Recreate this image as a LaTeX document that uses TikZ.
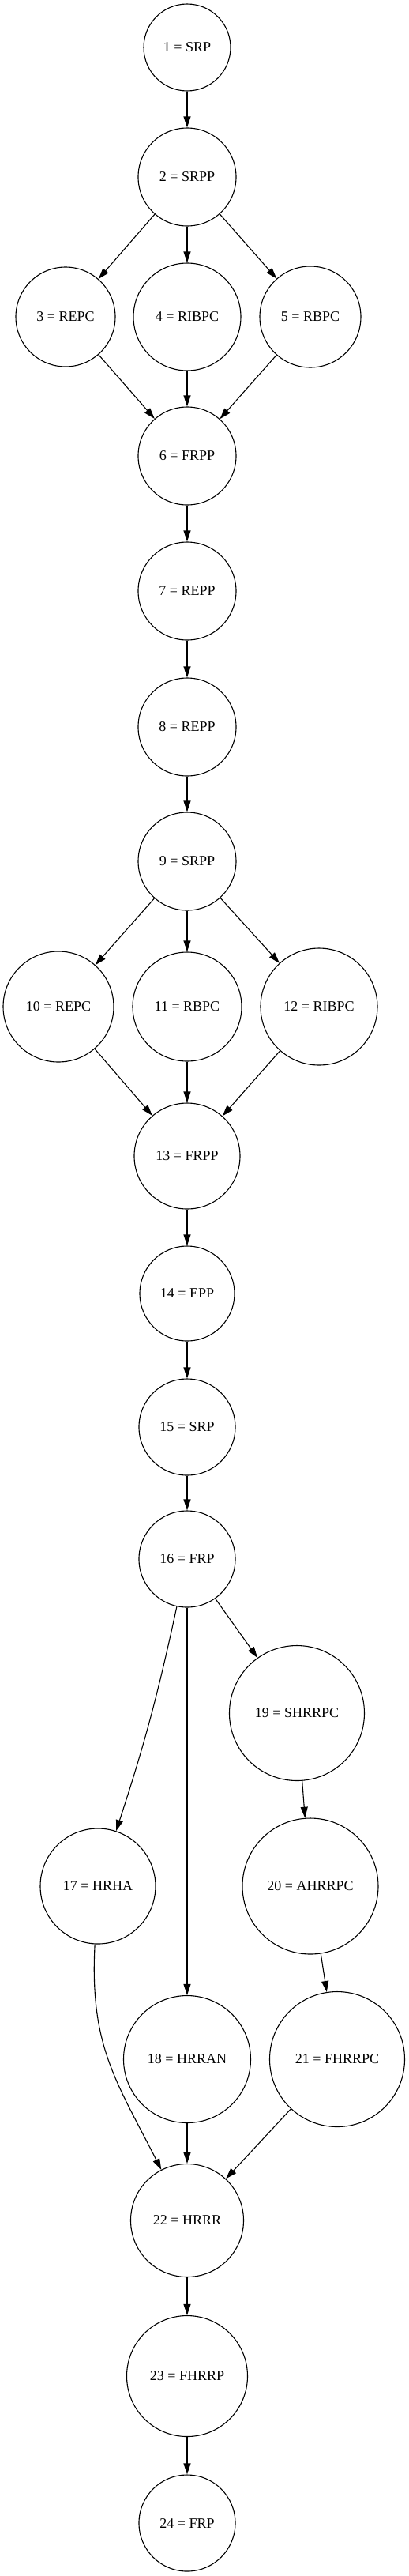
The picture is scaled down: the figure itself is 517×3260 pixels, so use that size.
\documentclass[tikz,border=0pt]{standalone}
\usepackage{fontspec}
\setmainfont{Liberation Serif}
\usetikzlibrary{arrows.meta}

\tikzset{
	st/.style={circle, draw, line width=1.1pt, inner sep=0pt, font=\fontsize{18}{22}\selectfont},
}

\begin{document}
\begin{tikzpicture}[x=1pt,y=1pt,line width=1.1pt,>={Triangle[length=14pt,width=9pt]}]
\useasboundingbox (0,0) rectangle (517,-3260);

%----------------------------
% Top: first chain
%----------------------------
\node[st, minimum size=110pt] (n1) at (237,-60) {1 = SRP};
\node[st, minimum size=124pt] (n2) at (237,-224) {2 = SRPP};
\node[st, minimum size=126pt] (n3) at (83,-401) {3 = REPC};
\node[st, minimum size=136pt] (n4) at (237,-401) {4 = RIBPC};
\node[st, minimum size=128pt] (n5) at (393,-401) {5 = RBPC};
\node[st, minimum size=124pt] (n6) at (237,-577) {6 = FRPP};
\node[st, minimum size=124pt] (n7) at (237,-748) {7 = REPP};
\node[st, minimum size=124pt] (n8) at (237,-920) {8 = REPP};

%----------------------------
% Middle: second chain
%----------------------------
\node[st, minimum size=124pt] (n9) at (237,-1090) {9 = SRPP};
\node[st, minimum size=140pt] (n10) at (74,-1274) {10 = REPC};
\node[st, minimum size=138pt] (n11) at (237,-1274) {11 = RBPC};
\node[st, minimum size=148pt] (n12) at (404,-1274) {12 = RIBPC};
\node[st, minimum size=134pt] (n13) at (237,-1463) {13 = FRPP};
\node[st, minimum size=120pt] (n14) at (237,-1637) {14 = EPP};
\node[st, minimum size=122pt] (n15) at (237,-1806) {15 = SRP};

%----------------------------
% Bottom: branches of 16
%----------------------------
\node[st, minimum size=122pt] (n16) at (237,-1973) {16 = FRP};
\node[st, minimum size=146pt] (n17) at (124,-2387) {17 = HRHA};
\node[st, minimum size=161pt] (n18) at (237,-2606) {18 = HRRAN};
\node[st, minimum size=171pt] (n19) at (376,-2168) {19 = SHRRPC};
\node[st, minimum size=172pt] (n20) at (393,-2387) {20 = AHRRPC};
\node[st, minimum size=171pt] (n21) at (427,-2606) {21 = FHRRPC};
\node[st, minimum size=143pt] (n22) at (237,-2810) {22 = HRRR};
\node[st, minimum size=153pt] (n23) at (237,-3007) {23 = FHRRP};
\node[st, minimum size=122pt] (n24) at (237,-3193) {24 = FRP};

%----------------------------
% Arrows
%----------------------------
\foreach \a/\b in {1/2, 2/3, 2/4, 2/5, 3/6, 4/6, 5/6, 6/7, 7/8, 8/9,
	9/10, 9/11, 9/12, 10/13, 11/13, 12/13, 13/14, 14/15, 15/16,
	16/18, 16/19, 19/20, 20/21, 18/22, 21/22, 22/23, 23/24}
\draw[->] (n\a) -- (n\b);

% the two bent ones
\draw[->] (n16) to[bend left=3] (n17);
\draw[->] (n17) to[out=-93, in=117, looseness=1.1] (n22);

\end{tikzpicture}
\end{document}
